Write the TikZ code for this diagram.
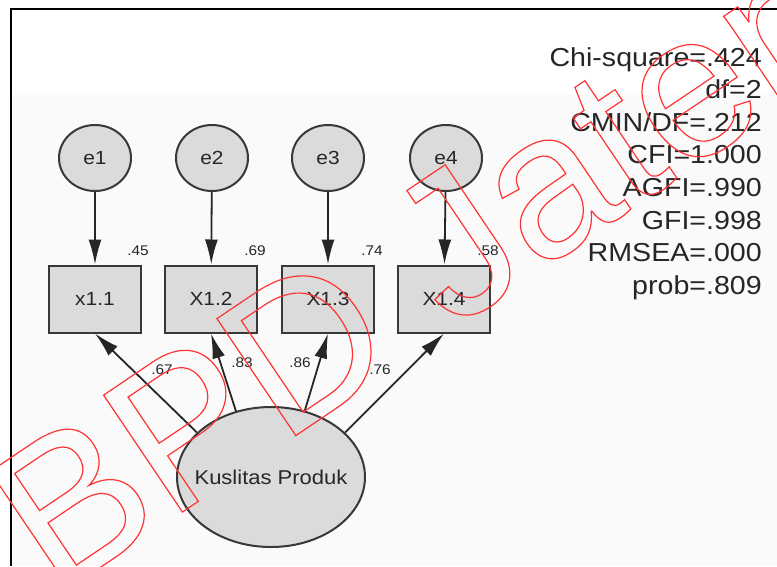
\documentclass[tikz,border=0pt]{standalone}
\usepackage{fontspec}
\setmainfont{Liberation Sans}
\newfontfamily\amosfont[FakeStretch=1.1]{Liberation Sans}
\usetikzlibrary{arrows.meta,shapes.geometric}
% outlined (stroked, unfilled) text for xdvipdfmx
\newcommand{\strokedtext}[1]{\special{pdf:literal direct 1 Tr 1.2 w}#1\special{pdf:literal direct 0 Tr}}

\begin{document}
\begin{tikzpicture}[x=1pt,y=-1pt,
    err/.style={ellipse,draw=black!78,line width=2pt,fill=black!14,
        minimum width=72pt,minimum height=66pt,inner sep=0pt,
        text=black!85,font=\amosfont\fontsize{19}{19}\selectfont},
    ind/.style={rectangle,draw=black!78,line width=2pt,fill=black!14,
        minimum width=92pt,minimum height=67pt,inner sep=0pt,
        text=black!85,font=\amosfont\fontsize{19}{19}\selectfont},
    lat/.style={ellipse,draw=black!78,line width=2pt,fill=black!14,
        minimum width=188pt,minimum height=140pt,inner sep=0pt,
        text=black!85,font=\amosfont\fontsize{20}{20}\selectfont},
    load/.style={draw=black!85,line width=1.8pt,-{Latex[length=25pt,width=13pt]}},
    est/.style={text=black!85,inner sep=0pt,font=\amosfont\fontsize{14}{14}\selectfont},
    wmark/.style={rotate=34,anchor=base west,inner sep=0pt,text=red!80,
        font=\fontsize{205}{205}\selectfont}]
    \useasboundingbox (0,0) rectangle (777,566);
    \fill[black!2] (13,95) rectangle (777,566);
    \draw[line width=2.5pt] (11,566) -- (11,9) -- (777,9);

    % error terms
    \node[err] (e1) at (95,158) {e1};
    \node[err] (e2) at (212,158) {e2};
    \node[err] (e3) at (328,158) {e3};
    \node[err] (e4) at (446,158) {e4};

    % indicators
    \node[ind] (x11) at (95,299) {x1.1};
    \node[ind] (x12) at (211,299) {X1.2};
    \node[ind] (x13) at (328,299) {X1.3};
    \node[ind] (x14) at (444,299) {X1.4};

    % latent factor (label kept out of the shape size)
    \node[lat] (kp) at (271,477) {\makebox[0pt]{Kuslitas Produk}};

    \draw[load] (e1) -- (x11);
    \draw[load] (e2) -- (x12);
    \draw[load] (e3) -- (x13);
    \draw[load] (e4) -- (x14);

    \draw[load] (kp.149) -- (x11.south);
    \draw[load] (kp.118) -- (x12.south);
    \draw[load] (kp.63) -- (x13.south);
    \draw[load] (kp.31) -- (x14.south);

    % squared multiple correlations
    \node[est] (r1) at (138,251) {.45};
    \node[est] (r2) at (255,251) {.69};
    \node[est] (r3) at (372,251) {.74};
    \node[est] (r4) at (488,251) {.58};

    % standardized loadings
    \node[est] (l1) at (162,370) {.67};
    \node[est] (l2) at (242,363) {.83};
    \node[est] (l3) at (300,363) {.86};
    \node[est] (l4) at (380,370) {.76};

    % fit indices
    \node[anchor=north east,align=right,inner sep=0pt,text=black!85,
        font=\amosfont\fontsize{26}{32.6}\selectfont] (fit) at (762,47)
        {Chi-square=.424\\df=2\\CMIN/DF=.212\\CFI=1.000\\AGFI=.990\\GFI=.998\\RMSEA=.000\\prob=.809};

    % watermark
    \node[wmark] (wm) at (55,598) {\strokedtext{BPD Jateng}};
\end{tikzpicture}
\end{document}
